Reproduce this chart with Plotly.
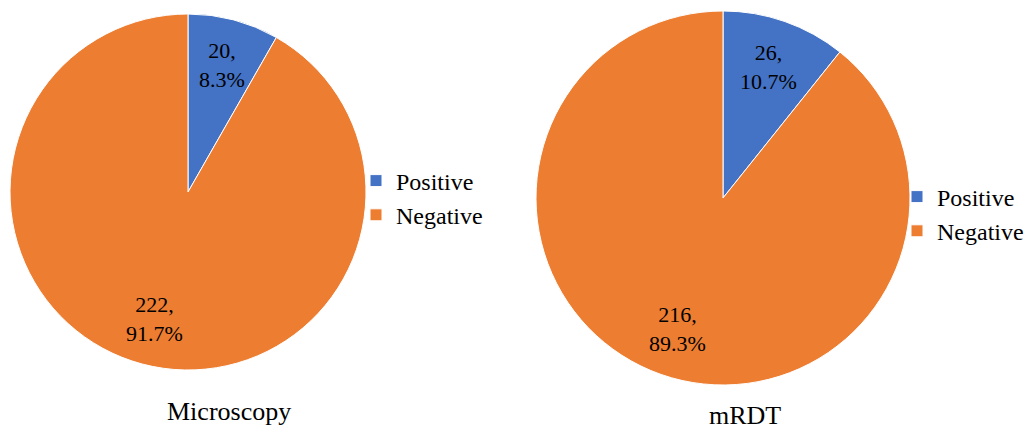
import math
import plotly.graph_objects as go

categories = ["Positive", "Negative"]
microscopy_values = [20, 222]
mrdt_values = [26, 216]
titles = ["Microscopy", "mRDT"]
colors = ["#4472C4", "#ED7D31"]

W, H = 1033, 432
FONT = "Liberation Serif"
LABEL_R = 0.74  # label distance as a fraction of the pie radius

# pie legends merge identical labels across traces, so the second pie's labels
# carry an invisible zero-width space to get their own legend entries
pies = [
    dict(values=microscopy_values, labels=categories,
         box=(10, 366, 14, 370), legend="legend"),
    dict(values=mrdt_values, labels=[c + "\u200b" for c in categories],
         box=(536, 910, 11, 385), legend="legend2"),
]

fig = go.Figure()
annotations = []
for p in pies:
    x0, x1, y0, y1 = p["box"]
    fig.add_trace(go.Pie(
        labels=p["labels"], values=p["values"], sort=False, direction="clockwise",
        rotation=0, marker=dict(colors=colors, line=dict(color="white", width=1)),
        textinfo="none", hoverinfo="label+value+percent",
        domain=dict(x=[x0 / W, x1 / W], y=[1 - y1 / H, 1 - y0 / H]),
        legend=p["legend"],
    ))
    # data labels placed at each slice's mid-angle
    cx, cy, R = (x0 + x1) / 2, (y0 + y1) / 2, (x1 - x0) / 2
    total = sum(p["values"])
    cum = 0
    for v in p["values"]:
        theta = math.radians(360 * (cum + v / 2) / total)
        cum += v
        lx = cx + LABEL_R * R * math.sin(theta)
        ly = cy - LABEL_R * R * math.cos(theta)
        annotations.append(dict(
            text=f"{v},<br>{v / total * 100:.1f}%", x=lx / W, y=1 - ly / H,
            xref="paper", yref="paper", xanchor="center", yanchor="middle",
            showarrow=False, align="center",
            font=dict(family=FONT, size=22, color="black"),
        ))

annotations += [
    dict(text=titles[0], x=229 / W, y=1 - 411 / H, xref="paper", yref="paper",
         xanchor="center", yanchor="middle", showarrow=False,
         font=dict(family=FONT, size=26, color="black")),
    dict(text=titles[1], x=745 / W, y=0, xref="paper", yref="paper",
         xanchor="center", yanchor="bottom", showarrow=False,
         font=dict(family=FONT, size=26, color="black")),
]

leg_common = dict(font=dict(family=FONT, size=24, color="black"), bgcolor="rgba(0,0,0,0)",
                  itemwidth=30, traceorder="normal", xanchor="left", yanchor="middle")
fig.update_layout(
    width=W, height=H, margin=dict(l=0, r=0, t=0, b=0),
    paper_bgcolor="white", plot_bgcolor="white",
    font=dict(family=FONT, color="black"),
    legend=dict(x=356 / W, y=1 - 198 / H, **leg_common),
    legend2=dict(x=897 / W, y=1 - 214 / H, **leg_common),
    annotations=annotations,
)
fig.write_html("out.html")
